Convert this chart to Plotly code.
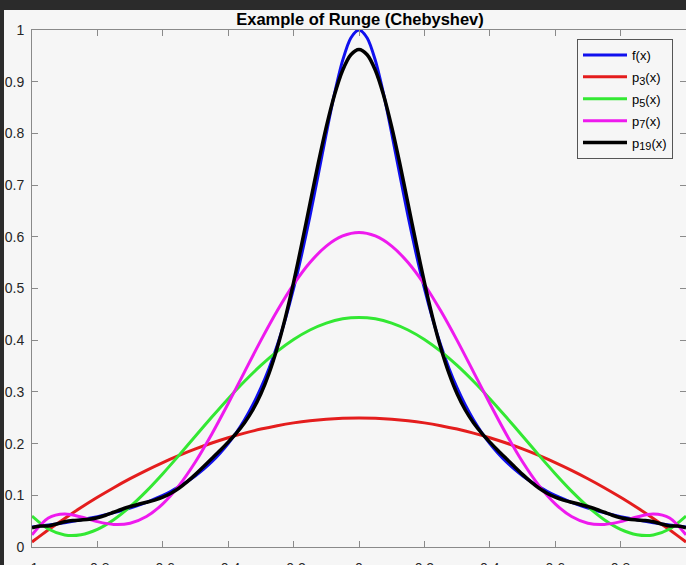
import plotly.graph_objects as go

# ---------------- data ----------------
x_fine = [-1.0, -0.975, -0.95, -0.925, -0.9, -0.875, -0.85, -0.825, -0.8, -0.775,
          -0.75, -0.725, -0.7, -0.675, -0.65, -0.625, -0.6, -0.575, -0.55, -0.525,
          -0.5, -0.475, -0.45, -0.425, -0.4, -0.375, -0.35, -0.325, -0.3, -0.275,
          -0.25, -0.225, -0.2, -0.175, -0.15, -0.125, -0.1, -0.075, -0.05, -0.025,
          0.0, 0.025, 0.05, 0.075, 0.1, 0.125, 0.15, 0.175, 0.2, 0.225,
          0.25, 0.275, 0.3, 0.325, 0.35, 0.375, 0.4, 0.425, 0.45, 0.475,
          0.5, 0.525, 0.55, 0.575, 0.6, 0.625, 0.65, 0.675, 0.7, 0.725,
          0.75, 0.775, 0.8, 0.825, 0.85, 0.875, 0.9, 0.925, 0.95, 0.975, 1.0]

f_vals = [0.0385, 0.0404, 0.0424, 0.0447, 0.0471, 0.0497, 0.0525, 0.0555, 0.0588, 0.0624,
          0.0664, 0.0707, 0.0755, 0.0807, 0.0865, 0.0929, 0.1, 0.1079, 0.1168, 0.1267,
          0.1379, 0.1506, 0.1649, 0.1813, 0.2, 0.2215, 0.2462, 0.2747, 0.3077, 0.3459,
          0.3902, 0.4414, 0.5, 0.5664, 0.64, 0.7191, 0.8, 0.8767, 0.9412, 0.9846,
          1.0, 0.9846, 0.9412, 0.8767, 0.8, 0.7191, 0.64, 0.5664, 0.5, 0.4414,
          0.3902, 0.3459, 0.3077, 0.2747, 0.2462, 0.2215, 0.2, 0.1813, 0.1649, 0.1506,
          0.1379, 0.1267, 0.1168, 0.1079, 0.1, 0.0929, 0.0865, 0.0807, 0.0755, 0.0707,
          0.0664, 0.0624, 0.0588, 0.0555, 0.0525, 0.0497, 0.0471, 0.0447, 0.0424, 0.0404, 0.0385]

p19_vals = [0.0371, 0.0407, 0.0408, 0.0446, 0.0487, 0.0511, 0.0523, 0.0537, 0.0567, 0.0614,
            0.0672, 0.0730, 0.0783, 0.0826, 0.0865, 0.0908, 0.0964, 0.1040, 0.1141, 0.1264,
            0.1405, 0.1556, 0.1711, 0.1867, 0.2028, 0.2201, 0.2402, 0.2650, 0.2963, 0.3361,
            0.3853, 0.4443, 0.5119, 0.5862, 0.6639, 0.7409, 0.8126, 0.8744, 0.9221, 0.9521,
            0.9624, 0.9521, 0.9221, 0.8744, 0.8126, 0.7409, 0.6639, 0.5862, 0.5119, 0.4443,
            0.3853, 0.3361, 0.2963, 0.2650, 0.2402, 0.2201, 0.2028, 0.1867, 0.1711, 0.1556,
            0.1405, 0.1264, 0.1141, 0.1040, 0.0964, 0.0908, 0.0865, 0.0826, 0.0783, 0.0730,
            0.0672, 0.0614, 0.0567, 0.0537, 0.0523, 0.0511, 0.0487, 0.0446, 0.0408, 0.0407, 0.0371]

x_coarse = [-1.0, -0.95, -0.9, -0.85, -0.8, -0.75, -0.7, -0.65, -0.6, -0.55,
            -0.5, -0.45, -0.4, -0.35, -0.3, -0.25, -0.2, -0.15, -0.1, -0.05,
            0.0, 0.05, 0.1, 0.15, 0.2, 0.25, 0.3, 0.35, 0.4, 0.45,
            0.5, 0.55, 0.6, 0.65, 0.7, 0.75, 0.8, 0.85, 0.9, 0.95, 1.0]

p3_vals = [0.0097, 0.0331, 0.0553, 0.0763, 0.0961, 0.1147, 0.1321, 0.1483, 0.1633, 0.1771,
           0.1897, 0.2011, 0.2113, 0.2203, 0.2281, 0.2347, 0.2401, 0.2443, 0.2473, 0.2491,
           0.2497, 0.2491, 0.2473, 0.2443, 0.2401, 0.2347, 0.2281, 0.2203, 0.2113, 0.2011,
           0.1897, 0.1771, 0.1633, 0.1483, 0.1321, 0.1147, 0.0961, 0.0763, 0.0553, 0.0331, 0.0097]

p5_vals = [0.0598, 0.0347, 0.0233, 0.0238, 0.0342, 0.0528, 0.0780, 0.1081, 0.1418, 0.1777,
           0.2146, 0.2513, 0.2869, 0.3205, 0.3512, 0.3783, 0.4013, 0.4197, 0.4331, 0.4413,
           0.4440, 0.4413, 0.4331, 0.4197, 0.4013, 0.3783, 0.3512, 0.3205, 0.2869, 0.2513,
           0.2146, 0.1777, 0.1418, 0.1081, 0.0780, 0.0528, 0.0342, 0.0238, 0.0233, 0.0347, 0.0598]

p7_vals = [0.0234, 0.0561, 0.0636, 0.0580, 0.0491, 0.0436, 0.0460, 0.0590, 0.0835, 0.1192,
           0.1649, 0.2186, 0.2775, 0.3388, 0.3996, 0.4568, 0.5078, 0.5502, 0.5820, 0.6016,
           0.6083, 0.6016, 0.5820, 0.5502, 0.5078, 0.4568, 0.3996, 0.3388, 0.2775, 0.2186,
           0.1649, 0.1192, 0.0835, 0.0590, 0.0460, 0.0436, 0.0491, 0.0580, 0.0636, 0.0561, 0.0234]

series_labels = ["f(x)", "p|3|(x)", "p|5|(x)", "p|7|(x)", "p|19|(x)"]
x_tick_vals = [-1, -0.8, -0.6, -0.4, -0.2, 0, 0.2, 0.4, 0.6, 0.8, 1]
x_tick_text = ["-1", "-0.8", "-0.6", "-0.4", "-0.2", "0", "0.2", "0.4", "0.6", "0.8", "1"]
y_tick_vals = [0, 0.1, 0.2, 0.3, 0.4, 0.5, 0.6, 0.7, 0.8, 0.9, 1]
y_tick_text = ["0", "0.1", "0.2", "0.3", "0.4", "0.5", "0.6", "0.7", "0.8", "0.9", "1"]
title_text = "Example of Runge (Chebyshev)"

# ---------------- figure ----------------
W, H = 686, 565
ML, MR, MT, MB = 32, 0, 30, 18
PW, PH = W - ML - MR, H - MT - MB
BG = "#f6f6f6"
FONT = "Liberation Sans, Arial, Helvetica, sans-serif"


def legend_name(label):
    parts = label.split("|")
    if len(parts) == 1:
        return label
    return (parts[0] + "<sub><span style='font-size:11px'>" + parts[1]
            + "</span></sub>" + parts[2])


fig = go.Figure()
traces = [
    (x_fine, f_vals, "#1010ee", 3),
    (x_coarse, p3_vals, "#e41d1d", 3),
    (x_coarse, p5_vals, "#33e833", 3),
    (x_coarse, p7_vals, "#ee1aee", 3),
    (x_fine, p19_vals, "#000000", 3.5),
]
for i, ((xs, ys, col, lw), lab) in enumerate(zip(traces, series_labels)):
    fig.add_trace(go.Scatter(x=xs, y=ys, mode="lines", name=legend_name(lab),
                             legendgroup="g%d" % i,
                             line=dict(color=col, width=lw, shape="spline", smoothing=0.8)))


def px_x(p):
    return (p - ML) / PW


def px_y(p):
    return (H - MB - p) / PH


axis_common = dict(
    showgrid=False, zeroline=False, showline=True, linecolor="#8a8a8a", linewidth=1,
    mirror="ticks", ticks="inside", ticklen=6, tickcolor="#8a8a8a", tickwidth=1,
    automargin=False,
    tickfont=dict(family=FONT, size=14, color="#262626"),
)

fig.update_layout(
    width=W, height=H,
    margin=dict(l=ML, r=MR, t=MT, b=MB, pad=0, autoexpand=False),
    paper_bgcolor="#2b2b2b",
    plot_bgcolor=BG,
    showlegend=True,
    title=dict(text="<b>" + title_text + "</b>", x=px_x(360), xanchor="center",
               xref="paper", y=1 - 19 / H, yref="container", yanchor="middle",
               font=dict(family=FONT, size=16.5, color="#000000")),
    xaxis=dict(range=[-1, 1], tickvals=x_tick_vals, ticktext=x_tick_text,
               ticklabelstandoff=8, **axis_common),
    yaxis=dict(range=[0, 1], tickvals=y_tick_vals, ticktext=y_tick_text,
               ticklabelstandoff=4, **axis_common),
    legend=dict(x=px_x(577), xanchor="left", y=px_y(39), yanchor="top",
                bgcolor=BG, bordercolor="#555555", borderwidth=1,
                font=dict(family=FONT, size=13, color="#000000"),
                itemwidth=44, tracegroupgap=2),
    shapes=[dict(type="rect", xref="paper", yref="paper", layer="below",
                 x0=px_x(4), x1=px_x(W + 5), y0=px_y(H + 5), y1=px_y(10),
                 fillcolor=BG, line=dict(width=0))],
)

fig.write_html(
    "out.html",
    config={"displayModeBar": False},
    post_script="document.body.style.margin='0';document.body.style.overflow='hidden';",
)
